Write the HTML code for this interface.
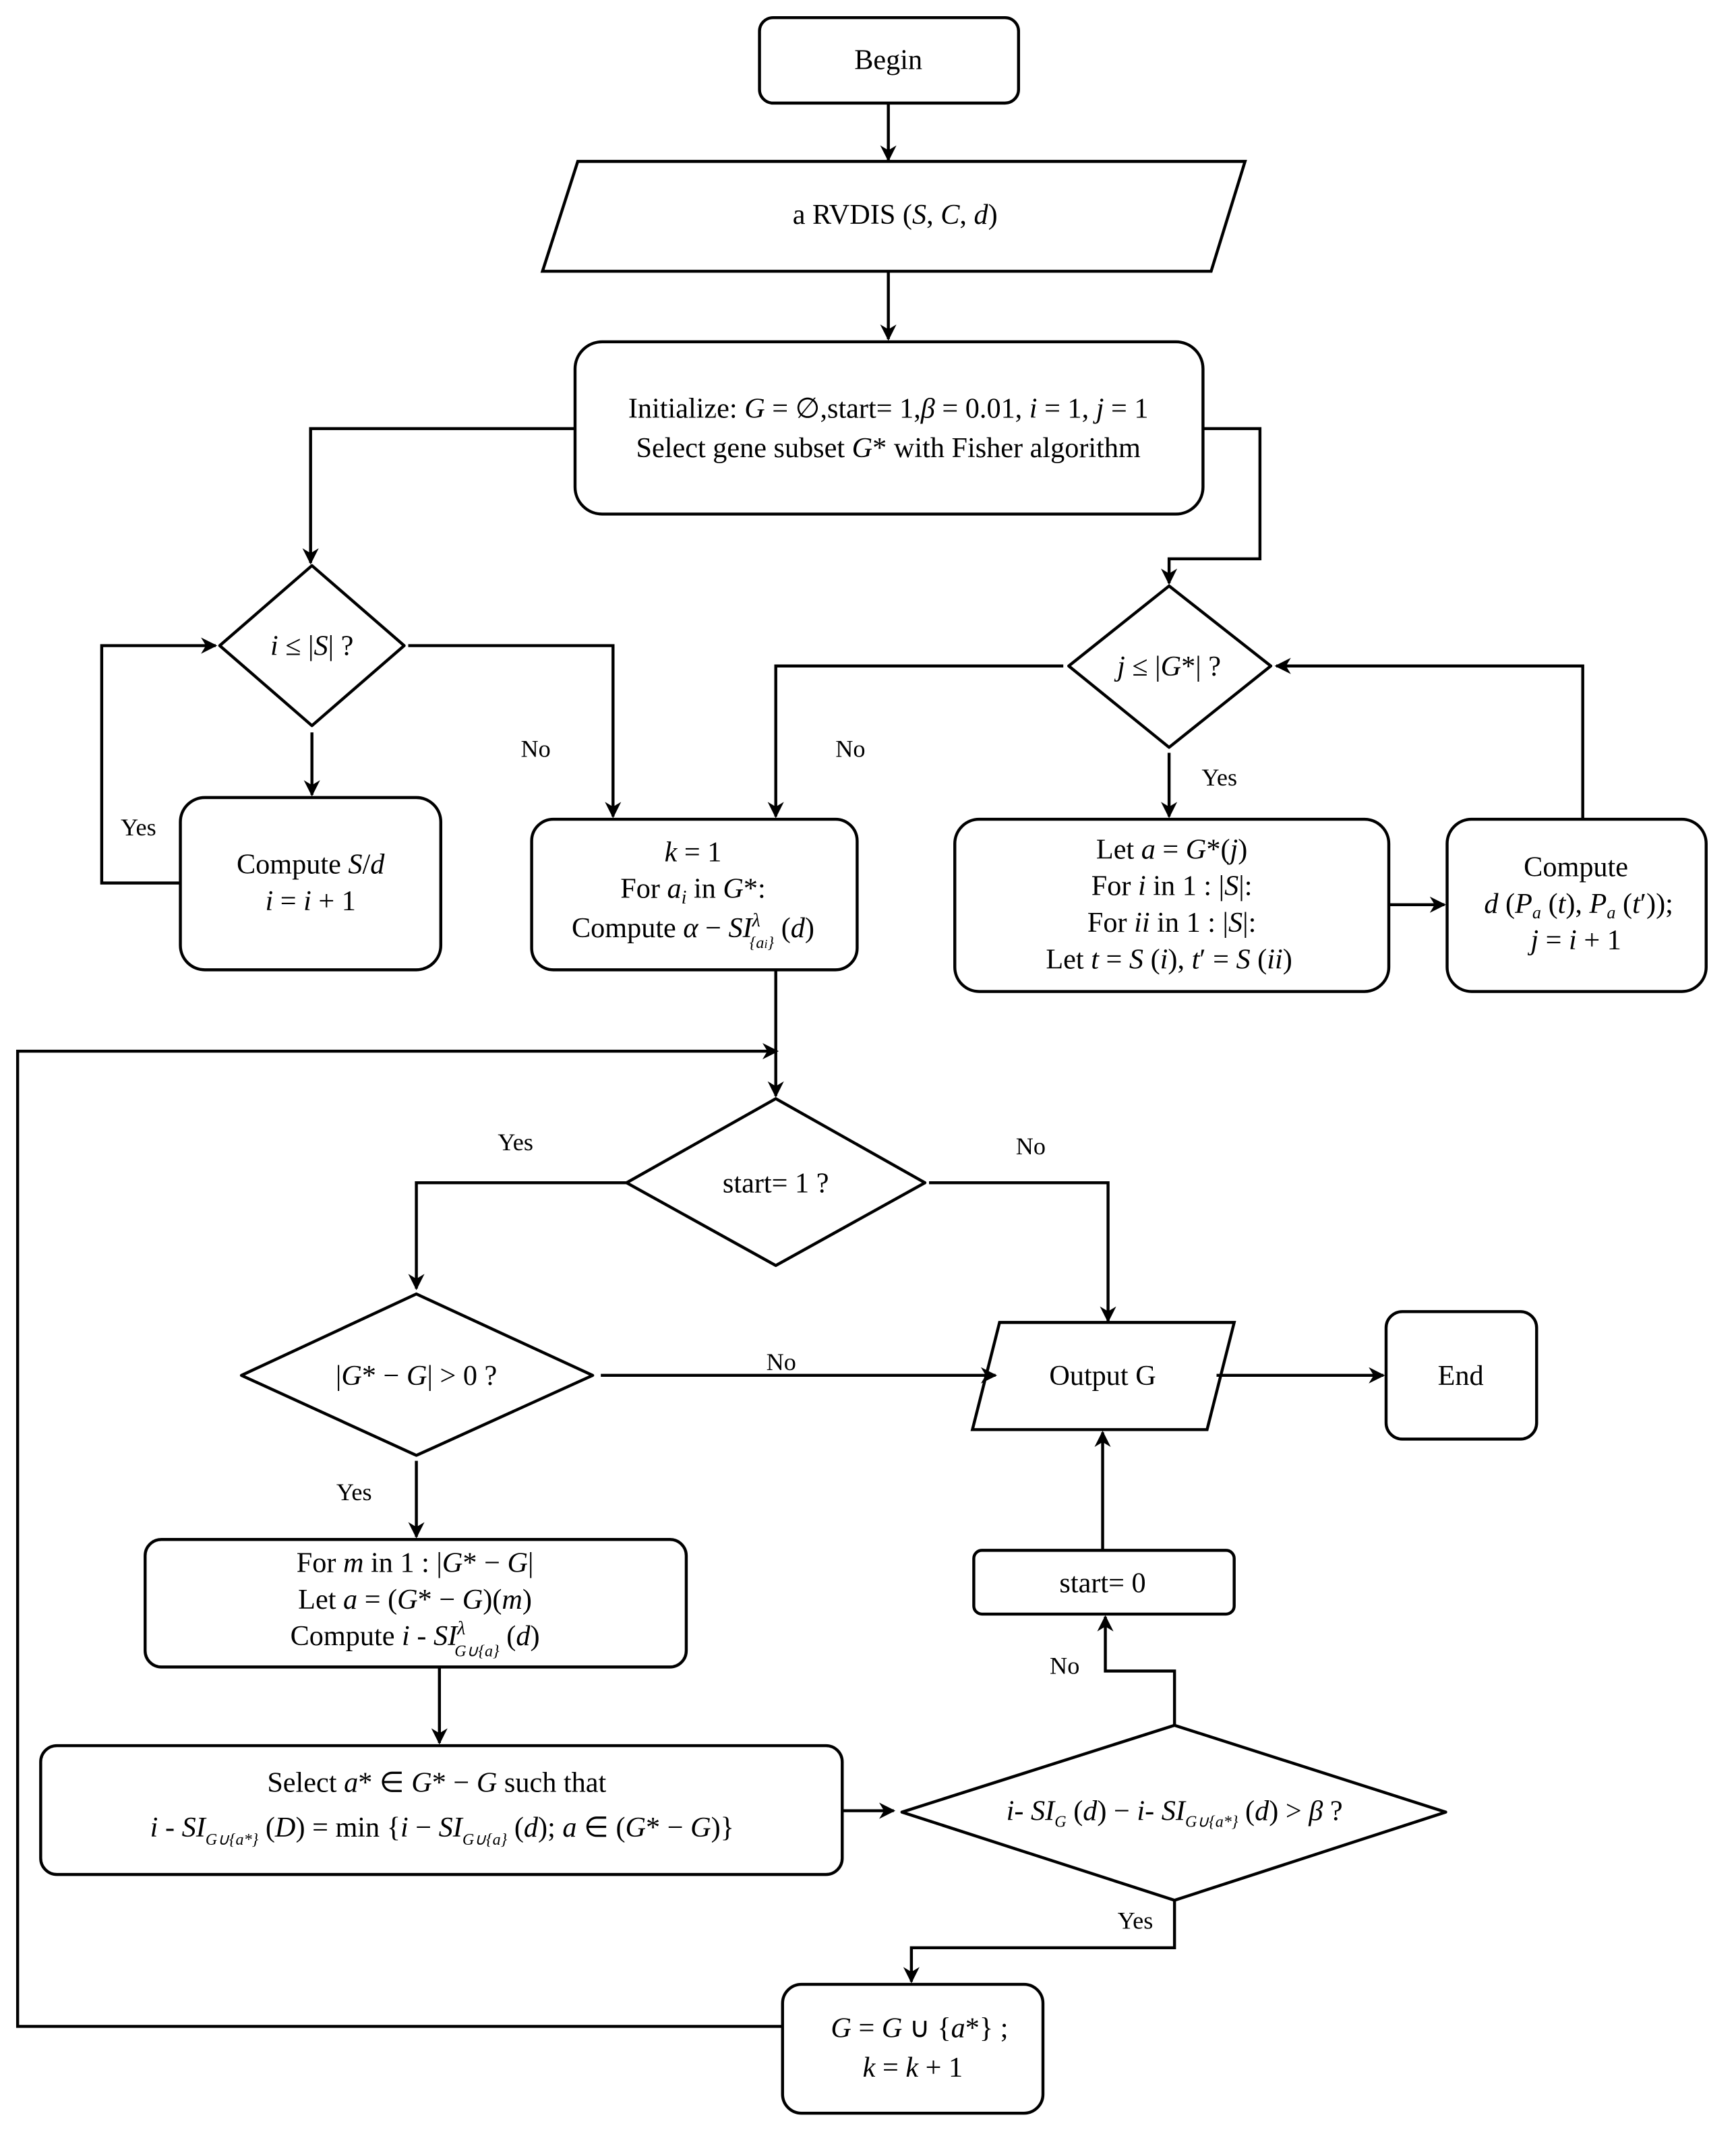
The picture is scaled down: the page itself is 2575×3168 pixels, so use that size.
<!DOCTYPE html>
<html><head><meta charset="utf-8"><style>
html,body{margin:0;padding:0;background:#fff}
svg{display:block}
text{font-family:"Liberation Serif",serif;font-size:21px;fill:#000}
.i{font-style:italic}
</style></head><body>
<svg width="2575" height="3168" viewBox="0 0 1280 1574.8" preserveAspectRatio="none" xmlns="http://www.w3.org/2000/svg">
<defs><marker id="a" viewBox="0 0 10 10" refX="9" refY="5" markerWidth="7" markerHeight="7" orient="auto" markerUnits="userSpaceOnUse"><path d="M0,0 L10,5 L0,10 z" fill="#000"/></marker>
<marker id="b" viewBox="0 0 10 10" refX="9" refY="5" markerWidth="12" markerHeight="12" orient="auto" markerUnits="userSpaceOnUse"><path d="M0,0 L10,5 L0,10 L3,5 z" fill="#000"/></marker></defs>
<g fill="none" stroke="#000" stroke-width="2.2">
<rect x="560" y="13" width="191" height="63" rx="10"/>
<polygon points="426,119 918,119 893,200 400,200"/>
<rect x="424" y="252" width="463" height="127" rx="20"/>
<polygon points="230,417 298,476 230,535 162,476" stroke-linejoin="round"/>
<rect x="133" y="588" width="192" height="127" rx="18"/>
<rect x="392" y="604" width="240" height="111" rx="16"/>
<polygon points="862,432 937,491 862,551 788,491" stroke-linejoin="round"/>
<rect x="704" y="604" width="320" height="127" rx="18"/>
<rect x="1067" y="604" width="191" height="127" rx="18"/>
<polygon points="572,810 682,872 572,933 462,872" stroke-linejoin="round"/>
<polygon points="307,954 437,1014 307,1073 178,1014" stroke-linejoin="round"/>
<polygon points="737,975 910,975 890,1054 717,1054"/>
<rect x="1022" y="967" width="111" height="94" rx="12"/>
<rect x="107" y="1135" width="399" height="94" rx="12"/>
<rect x="30" y="1287" width="591" height="95" rx="12"/>
<polygon points="866,1272 1066,1336 866,1401 665,1336" stroke-linejoin="round"/>
<rect x="718" y="1143" width="192" height="47" rx="6"/>
<rect x="577" y="1463" width="192" height="95" rx="14"/>
<!-- connectors -->
<path d="M655,76 V118" marker-end="url(#b)"/>
<path d="M655,200 V250" marker-end="url(#b)"/>
<path d="M424,316 H229 V415" marker-end="url(#b)"/>
<path d="M887,316 H929 V412 H862 V430" marker-end="url(#b)"/>
<path d="M230,540 V586" marker-end="url(#b)"/>
<path d="M133,651 H75 V476 H159" marker-end="url(#b)"/>
<path d="M301,476 H452 V602" marker-end="url(#b)"/>
<path d="M784,491 H572 V602" marker-end="url(#b)"/>
<path d="M862,555 V602" marker-end="url(#b)"/>
<path d="M1024,667 H1065" marker-end="url(#b)"/>
<path d="M1167,604 V491 H941" marker-end="url(#b)"/>
<path d="M572,715 V808" marker-end="url(#b)"/>
<path d="M577,1494 H13 V775 H573" marker-end="url(#b)"/>
<path d="M462,872 H307 V950" marker-end="url(#b)"/>
<path d="M685,872 H817 V974" marker-end="url(#b)"/>
<path d="M443,1014 H734" marker-end="url(#b)"/>
<path d="M897,1014 H1020" marker-end="url(#b)"/>
<path d="M307,1077 V1133" marker-end="url(#b)"/>
<path d="M324,1230 V1285" marker-end="url(#b)"/>
<path d="M621,1335 H659" marker-end="url(#b)"/>
<path d="M866,1272 V1232 H815 V1192" marker-end="url(#b)"/>
<path d="M813,1143 V1056" marker-end="url(#b)"/>
<path d="M866,1401 V1436 H672 V1461" marker-end="url(#b)"/>
</g>
<g text-anchor="middle">
<text x="655" y="51">Begin</text>
<text x="660" y="165">a RVDIS (<tspan class="i">S</tspan>, <tspan class="i">C</tspan>, <tspan class="i">d</tspan>)</text>
<text x="655" y="308">Initialize: <tspan class="i">G</tspan> = ∅,start= 1,<tspan class="i">β</tspan> = 0.01, <tspan class="i">i</tspan> = 1, <tspan class="i">j</tspan> = 1</text>
<text x="655" y="337">Select gene subset <tspan class="i">G</tspan>* with Fisher algorithm</text>
<text x="230" y="483"><tspan class="i">i</tspan> ≤ |<tspan class="i">S</tspan>| ?</text>
<text x="229" y="644">Compute  <tspan class="i">S</tspan>/<tspan class="i">d</tspan></text>
<text x="229" y="671"><tspan class="i">i</tspan> = <tspan class="i">i</tspan> + 1</text>
<text x="511" y="635"><tspan class="i">k</tspan> = 1</text>
<text x="511" y="662">For <tspan class="i">a<tspan font-size="14" dy="4">i</tspan></tspan><tspan dy="-4">  in  </tspan><tspan class="i">G</tspan>*:</text>
<text x="511" y="691">Compute  <tspan class="i">α</tspan> − <tspan class="i">SI</tspan><tspan font-size="14" dy="-8" class="i">λ</tspan><tspan font-size="12" dx="-8" dy="16" class="i">{a<tspan font-size="9">i</tspan>}</tspan><tspan dy="-8"> (<tspan class="i">d</tspan>)</tspan></text>
<text x="862" y="498"><tspan class="i">j</tspan> ≤ |<tspan class="i">G</tspan>*| ?</text>
<text x="864" y="633">Let   <tspan class="i">a</tspan> = <tspan class="i">G</tspan>*(<tspan class="i">j</tspan>)</text>
<text x="864" y="660">For  <tspan class="i">i</tspan>  in  1 : |<tspan class="i">S</tspan>|:</text>
<text x="864" y="687">For  <tspan class="i">ii</tspan>  in  1 : |<tspan class="i">S</tspan>|:</text>
<text x="862" y="714">Let   <tspan class="i">t</tspan> = <tspan class="i">S</tspan> (<tspan class="i">i</tspan>),  <tspan class="i">t</tspan>′ = <tspan class="i">S</tspan> (<tspan class="i">ii</tspan>)</text>
<text x="1162" y="646">Compute</text>
<text x="1164" y="673"><tspan class="i">d</tspan> (<tspan class="i">P<tspan font-size="13" dy="4">a</tspan></tspan><tspan dy="-4"> (</tspan><tspan class="i">t</tspan>),  <tspan class="i">P<tspan font-size="13" dy="4">a</tspan></tspan><tspan dy="-4"> (</tspan><tspan class="i">t</tspan>′));</text>
<text x="1162" y="700"><tspan class="i">j</tspan> = <tspan class="i">i</tspan> + 1</text>
<text x="572" y="879">start= 1 ?</text>
<text x="307" y="1021">|<tspan class="i">G</tspan>* − <tspan class="i">G</tspan>| &gt; 0 ?</text>
<text x="813" y="1021">Output G</text>
<text x="1077" y="1021">End</text>
<text x="306" y="1159">For <tspan class="i">m</tspan> in 1 : |<tspan class="i">G</tspan>* − <tspan class="i">G</tspan>|</text>
<text x="306" y="1186">Let  <tspan class="i">a</tspan> = (<tspan class="i">G</tspan>* − <tspan class="i">G</tspan>)(<tspan class="i">m</tspan>)</text>
<text x="306" y="1213">Compute  <tspan class="i">i</tspan> - <tspan class="i">SI</tspan><tspan font-size="14" dy="-8" class="i">λ</tspan><tspan font-size="12" dx="-8" dy="16" class="i">G∪{a}</tspan><tspan dy="-8"> (<tspan class="i">d</tspan>)</tspan></text>
<text x="322" y="1321">Select   <tspan class="i">a</tspan>* ∈ <tspan class="i">G</tspan>* − <tspan class="i">G</tspan> such that</text>
<text x="326" y="1354"><tspan class="i">i</tspan> - <tspan class="i">SI</tspan><tspan font-size="12" dy="6" class="i">G∪{a*}</tspan><tspan dy="-6"> (<tspan class="i">D</tspan>) = min {<tspan class="i">i</tspan> − <tspan class="i">SI</tspan></tspan><tspan font-size="12" dy="6" class="i">G∪{a}</tspan><tspan dy="-6"> (<tspan class="i">d</tspan>);  <tspan class="i">a</tspan> ∈ (<tspan class="i">G</tspan>* − <tspan class="i">G</tspan>)}</tspan></text>
<text x="866" y="1342" font-size="18"><tspan class="i">i</tspan>- <tspan class="i">SI</tspan><tspan font-size="12" dy="5" class="i">G</tspan><tspan dy="-5"> (<tspan class="i">d</tspan>) − <tspan class="i">i</tspan>- <tspan class="i">SI</tspan></tspan><tspan font-size="12" dy="5" class="i">G∪{a*}</tspan><tspan dy="-5"> (<tspan class="i">d</tspan>) &gt; <tspan class="i">β</tspan> ?</tspan></text>
<text x="813" y="1174">start= 0</text>
<text x="678" y="1502"><tspan class="i">G</tspan> = <tspan class="i">G</tspan> ∪ {<tspan class="i">a</tspan>*} ;</text>
<text x="673" y="1531"><tspan class="i">k</tspan> = <tspan class="i">k</tspan> + 1</text>
</g>
<g font-size="18">
<text x="89" y="616" style="font-size:18px">Yes</text>
<text x="384" y="558" style="font-size:18px">No</text>
<text x="616" y="558" style="font-size:18px">No</text>
<text x="886" y="579" style="font-size:18px">Yes</text>
<text x="367" y="848" style="font-size:18px">Yes</text>
<text x="749" y="851" style="font-size:18px">No</text>
<text x="565" y="1010" style="font-size:18px">No</text>
<text x="248" y="1106" style="font-size:18px">Yes</text>
<text x="774" y="1234" style="font-size:18px">No</text>
<text x="824" y="1422" style="font-size:18px">Yes</text>
</g>
</svg>
</body></html>
